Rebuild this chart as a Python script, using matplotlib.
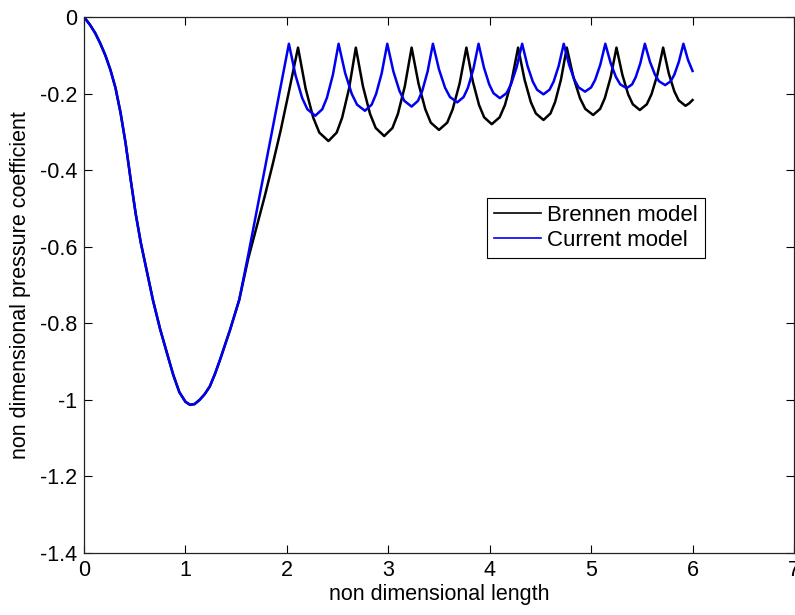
import matplotlib
matplotlib.use("Agg")
import matplotlib.pyplot as plt

plt.rcParams['font.family'] = ['Liberation Sans', 'DejaVu Sans']
plt.rcParams['axes.unicode_minus'] = False

# shared part of both curves
x_common = [0.00, 0.06, 0.11, 0.16, 0.21, 0.26, 0.31, 0.36, 0.41, 0.46, 0.51, 0.56,
            0.62, 0.68, 0.75, 0.82, 0.88, 0.94, 1.00, 1.045, 1.09, 1.14, 1.19, 1.24,
            1.29, 1.34, 1.44, 1.53]
y_common = [0.000, -0.021, -0.042, -0.069, -0.100, -0.138, -0.185, -0.250, -0.330, -0.425,
            -0.515, -0.590, -0.665, -0.740, -0.815, -0.880, -0.935, -0.980, -1.005, -1.013,
            -1.011, -1.000, -0.985, -0.965, -0.933, -0.896, -0.817, -0.739]

# current model after the split
x_current = [1.62, 1.70, 1.78, 1.86, 1.94, 2.02,
             2.085, 2.15, 2.202, 2.28, 2.349, 2.395, 2.453, 2.51,
             2.575, 2.64, 2.692, 2.77, 2.836, 2.88, 2.935, 2.99,
             3.05, 3.11, 3.158, 3.23, 3.293, 3.335, 3.388, 3.44,
             3.50, 3.56, 3.608, 3.68, 3.743, 3.785, 3.838, 3.89,
             3.943, 3.995, 4.037, 4.10, 4.166, 4.21, 4.265, 4.32,
             4.373, 4.425, 4.467, 4.53, 4.59, 4.63, 4.68, 4.73,
             4.783, 4.835, 4.877, 4.94, 5.00, 5.04, 5.09, 5.14,
             5.193, 5.245, 5.287, 5.35, 5.404, 5.44, 5.485, 5.53,
             5.58, 5.63, 5.67, 5.73, 5.784, 5.82, 5.865, 5.91,
             5.955, 6.00]
y_current = [-0.620, -0.510, -0.400, -0.290, -0.180, -0.070,
             -0.152, -0.211, -0.241, -0.258, -0.241, -0.211, -0.152, -0.070,
             -0.147, -0.201, -0.229, -0.245, -0.229, -0.201, -0.147, -0.070,
             -0.142, -0.193, -0.219, -0.234, -0.219, -0.193, -0.142, -0.070,
             -0.137, -0.185, -0.209, -0.223, -0.209, -0.185, -0.137, -0.070,
             -0.132, -0.176, -0.199, -0.212, -0.199, -0.176, -0.132, -0.070,
             -0.128, -0.169, -0.190, -0.202, -0.190, -0.169, -0.128, -0.070,
             -0.125, -0.164, -0.184, -0.195, -0.184, -0.164, -0.125, -0.070,
             -0.121, -0.157, -0.176, -0.186, -0.176, -0.157, -0.121, -0.070,
             -0.117, -0.151, -0.168, -0.178, -0.168, -0.151, -0.117, -0.070,
             -0.112, -0.141]

# Brennen model after the split
x_brennen = [1.62, 1.70, 1.78, 1.86, 1.94, 2.02, 2.11,
             2.185, 2.26, 2.32, 2.41, 2.491, 2.545, 2.613, 2.68,
             2.75, 2.82, 2.876, 2.96, 3.041, 3.095, 3.163, 3.23,
             3.298, 3.365, 3.419, 3.50, 3.581, 3.635, 3.703, 3.77,
             3.833, 3.895, 3.945, 4.02, 4.098, 4.15, 4.215, 4.28,
             4.343, 4.405, 4.455, 4.53, 4.599, 4.645, 4.703, 4.76,
             4.825, 4.89, 4.942, 5.02, 5.089, 5.135, 5.193, 5.25,
             5.308, 5.365, 5.411, 5.48, 5.549, 5.595, 5.653, 5.71,
             5.765, 5.82, 5.864, 5.93, 5.965, 6.00]
y_brennen = [-0.630, -0.550, -0.470, -0.385, -0.295, -0.195, -0.080,
             -0.187, -0.263, -0.302, -0.324, -0.302, -0.263, -0.187, -0.080,
             -0.181, -0.253, -0.290, -0.311, -0.290, -0.253, -0.181, -0.080,
             -0.174, -0.241, -0.276, -0.295, -0.276, -0.241, -0.174, -0.080,
             -0.168, -0.230, -0.262, -0.280, -0.262, -0.230, -0.168, -0.080,
             -0.163, -0.222, -0.252, -0.269, -0.252, -0.222, -0.163, -0.080,
             -0.157, -0.212, -0.240, -0.256, -0.240, -0.212, -0.157, -0.080,
             -0.151, -0.202, -0.228, -0.243, -0.228, -0.202, -0.151, -0.080,
             -0.147, -0.194, -0.218, -0.232, -0.226, -0.217]

fig = plt.figure(figsize=(7.95, 6.15), dpi=100)
ax = fig.add_axes([0.1057, 0.1008, 0.893, 0.8716])

ax.plot(x_common + x_brennen, y_common + y_brennen, color='black', lw=1.8, label='Brennen model')
ax.plot(x_common + x_current, y_common + y_current, color='#0000f0', lw=1.8, label='Current model')

ax.set_xlim(0, 7)
ax.set_ylim(-1.4, 0)
ax.set_xticks(range(8))
ax.set_yticks([0, -0.2, -0.4, -0.6, -0.8, -1, -1.2, -1.4])
ax.set_yticklabels(['0', '-0.2', '-0.4', '-0.6', '-0.8', '-1', '-1.2', '-1.4'])
ax.tick_params(direction='in', top=True, right=True, length=6, width=0.8,
               labelsize=15.5, pad=5)
for s in ax.spines.values():
    s.set_linewidth(0.9)
    s.set_color('#222222')

ax.set_xlabel('non dimensional length', fontsize=15.5, labelpad=2)
ax.set_ylabel('non dimensional pressure coefficient', fontsize=15.5, labelpad=6)

leg = ax.legend(loc='upper left', bbox_to_anchor=(0.568, 0.662), borderaxespad=0,
                fancybox=False, edgecolor='black', framealpha=1, fontsize=16,
                handlelength=2.1, handletextpad=0.3, borderpad=0.3, labelspacing=0.2)
leg.get_frame().set_linewidth(0.8)
for line in leg.get_lines():
    line.set_linewidth(1.2)

fig.savefig('out.png', dpi=100)
